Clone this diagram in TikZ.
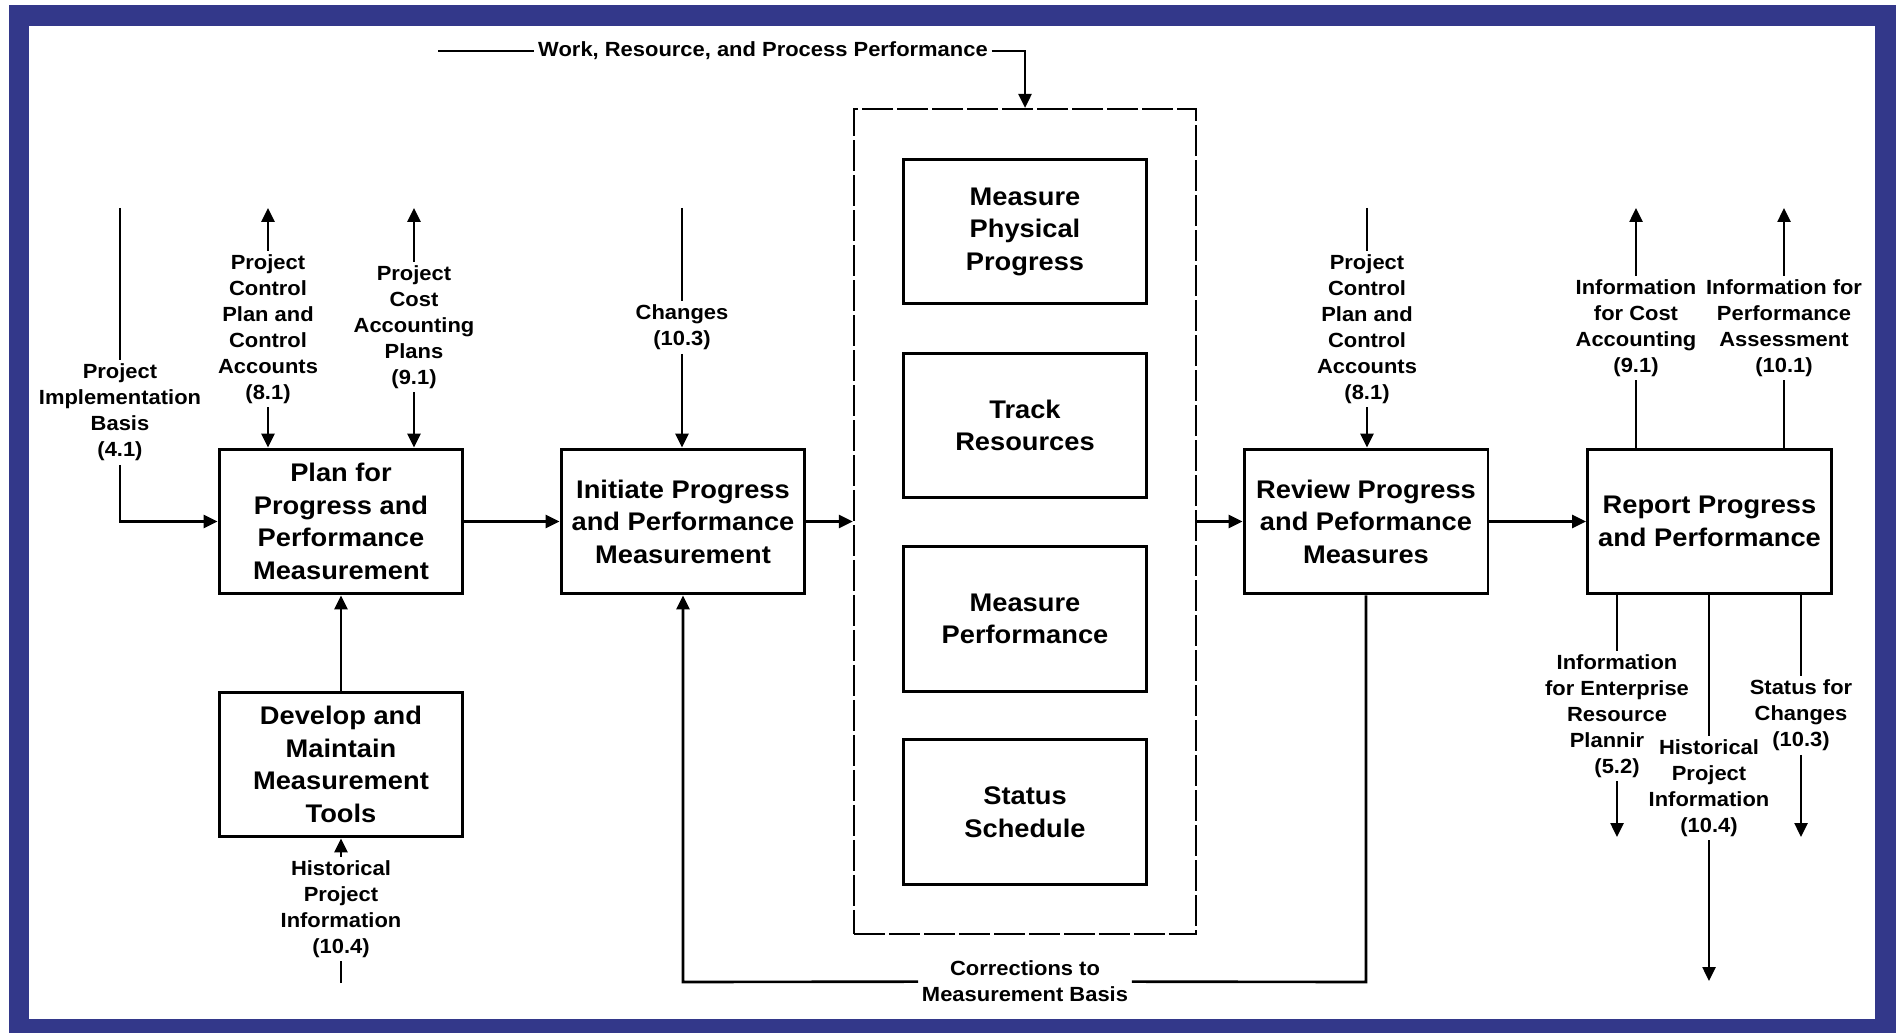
\documentclass[tikz,border=0pt]{standalone}
\usepackage{fontspec}
\setmainfont{Liberation Sans}[FakeStretch=1.07]
\usetikzlibrary{arrows.meta}
\definecolor{framebl}{RGB}{51,56,138}
\newcommand\boxfnt{\fontsize{14.5pt}{18.5pt}\selectfont\bfseries}
\newcommand\lblfnt{\fontsize{11.67pt}{14.8pt}\selectfont\bfseries}

\begin{document}
\begin{tikzpicture}[x=0.02cm,y=-0.02cm,
  proc/.style={draw, line width=1.7pt, minimum width=4.88cm, minimum height=2.9cm,
    inner sep=0pt, align=center, font=\boxfnt},
  lbl/.style={align=center, font=\lblfnt, inner sep=0.07cm},
  flow/.style={line width=1.5pt},
  arr/.style={flow, -{Triangle[length=0.28cm,width=0.26cm]}},
  groupbox/.style={draw, line width=1.3pt, dash pattern=on 0.62cm off 0.08cm,
    minimum width=6.84cm, minimum height=16.5cm, inner sep=0pt},
]
% frame
\useasboundingbox (0,0) rectangle (1896,1033);
\fill[framebl] (9,5) rectangle (1896,1033);
\fill[white] (29,26) rectangle (1875,1019);

% process boxes
\node[proc] (plan) at (341,521.5) {Plan for\\Progress and\\Performance\\Measurement};
\node[proc] (dev) at (341,764.5) {Develop and\\Maintain\\Measurement\\Tools};
\node[proc] (init) at (683,521.5) {Initiate Progress\\and Performance\\Measurement};
\node[groupbox] (grp) at (1025,521.5) {};
\node[proc] (phys) at (1025,231.5) {Measure\\Physical\\Progress};
\node[proc] (track) at (1025,425.5) {Track\\Resources};
\node[proc] (perf) at (1025,619) {Measure\\Performance};
\node[proc] (sched) at (1025,812) {Status\\Schedule};
\node[proc] (review) at (1366,521.5) {Review Progress\\and Peformance\\Measures};
\node[proc] (report) at (1709.5,521.5) {Report Progress\\and Performance};

% flow labels
\node[lbl] (pib) at (120,412.5) {Project\\Implementation\\Basis\\(4.1)};
\node[lbl] (pcpa) at (268,329) {Project\\Control\\Plan and\\Control\\Accounts\\(8.1)};
\node[lbl] (pcap) at (414,327) {Project\\Cost\\Accounting\\Plans\\(9.1)};
\node[lbl] (chg) at (682,327.5) {Changes\\(10.3)};
\node[lbl] (hpia) at (341,909) {Historical\\Project\\Information\\(10.4)};
\node[lbl] (pcpb) at (1367,329) {Project\\Control\\Plan and\\Control\\Accounts\\(8.1)};
\node[lbl] (ifc) at (1636,328) {Information\\for Cost\\Accounting\\(9.1)};
\node[lbl] (ifp) at (1784,328) {Information for\\Performance\\Assessment\\(10.1)};
\node[lbl] (ier) at (1617,716) {Information\\for Enterprise\\Resource\\Plannir\rule{0.4cm}{0pt}\\(5.2)};
\node[lbl] (hpib) at (1709,788) {Historical\\Project\\Information\\(10.4)};
\node[lbl] (sfc) at (1801,715.5) {Status for\\Changes\\(10.3)};
\node[lbl] (corr) at (1025,981.5) {Corrections to\\Measurement Basis};
\node[lbl] (wrp) at (763,51) {Work, Resource, and Process Performance};

% free ends
\coordinate (pibtop) at (120,208);
\coordinate (pcpatip) at (268,208);
\coordinate (pcaptip) at (414,208);
\coordinate (chgtop) at (682,208);
\coordinate (hpiabot) at (341,983);
\coordinate (pcpbtop) at (1367,208);
\coordinate (ifctip) at (1636,208);
\coordinate (ifptip) at (1784,208);
\coordinate (iertip) at (1617,837);
\coordinate (hpibtip) at (1709,981);
\coordinate (sfctip) at (1801,837);
\coordinate (wrpstart) at (438,51);
\coordinate (cr) at (1366,982);
\coordinate (cl) at (683,982);

% inputs to planning
\draw[flow] (pibtop) -- (pib);
\draw[arr] (pib) |- (plan);
\draw[arr] (pcpa) -- (pcpatip);
\draw[arr] (pcpa) -- (pcpa |- plan.north);
\draw[arr] (pcap) -- (pcaptip);
\draw[arr] (pcap) -- (pcap |- plan.north);
\draw[arr] (dev) -- (plan);
\draw[flow] (hpiabot) -- (hpia);
\draw[arr] (hpia) -- (dev);

% changes into initiation
\draw[flow] (chgtop) -- (chg);
\draw[arr] (chg) -- (chg |- init.north);

% main sequence
\draw[arr] (plan) -- (init);
\draw[arr] (init) -- (grp);
\draw[arr] (grp) -- (review);
\draw[arr] (review) -- (report);

% performance data into the measurement group
\draw[flow] (wrpstart) -- (wrp);
\draw[arr] (wrp) -| (grp);

% feedback loop
\draw[arr] (review) -- (cr) -- (corr) -- (cl) -- (init);

% review input
\draw[flow] (pcpbtop) -- (pcpb);
\draw[arr] (pcpb) -- (pcpb |- review.north);

% reporting outputs
\draw[flow] (ifc |- report.north) -- (ifc);
\draw[arr] (ifc) -- (ifctip);
\draw[flow] (ifp |- report.north) -- (ifp);
\draw[arr] (ifp) -- (ifptip);
\draw[flow] (ier |- report.south) -- (ier);
\draw[arr] (ier) -- (iertip);
\draw[flow] (hpib |- report.south) -- (hpib);
\draw[arr] (hpib) -- (hpibtip);
\draw[flow] (sfc |- report.south) -- (sfc);
\draw[arr] (sfc) -- (sfctip);
\end{tikzpicture}
\end{document}
